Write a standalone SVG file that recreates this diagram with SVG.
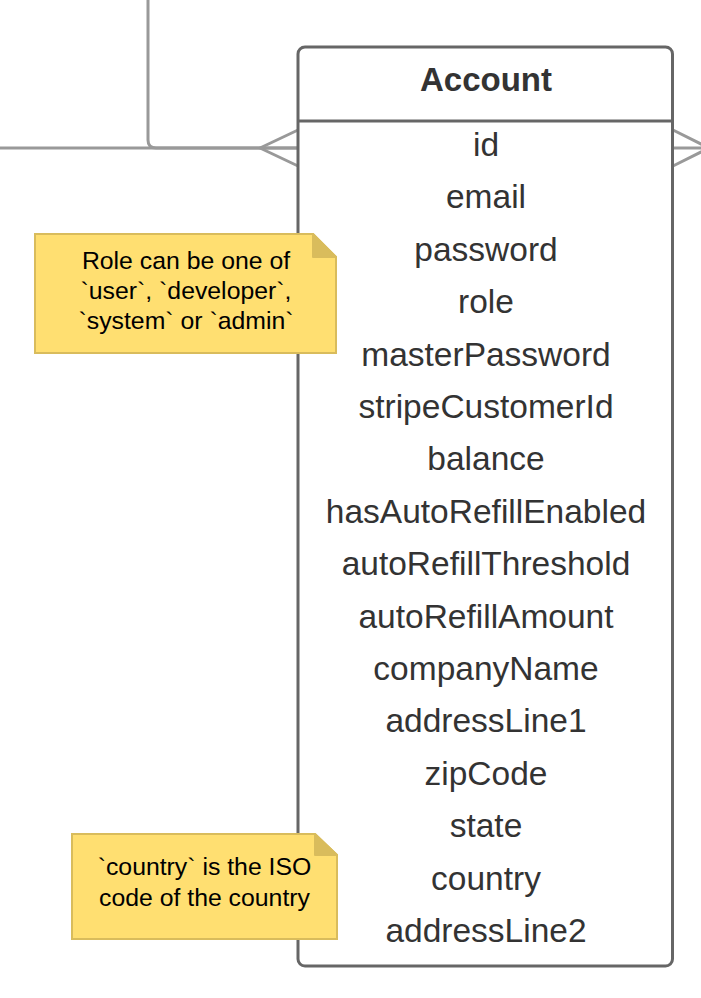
<svg xmlns="http://www.w3.org/2000/svg" width="701" height="998" viewBox="0 0 701 998">
<style>
.conn{fill:none;stroke:#999999;stroke-width:3;stroke-linejoin:round}
.ent{fill:#ffffff;stroke:#666666;stroke-width:3}
.div{stroke:#666666;stroke-width:3}
.title{font-family:"Liberation Sans",Arial,sans-serif;font-weight:bold;font-size:33px;fill:#333333;text-anchor:middle}
.row{font-family:"Liberation Sans",Arial,sans-serif;font-size:33.5px;fill:#333333;text-anchor:middle}
.note{fill:#FFDF71;stroke:#D9BC5C;stroke-width:2}
.fold{fill:#D9BC5C;stroke:#D9BC5C;stroke-width:2;stroke-linejoin:round}
.ntext{font-family:"Liberation Sans",Arial,sans-serif;font-size:24.8px;fill:#000000;text-anchor:middle}
</style>
<g id="connectors">
<path class="conn" d="M148,0 L148,140 Q148,148 156,148 L298,148"/>
<path class="conn" d="M0,148 L298,148"/>
<path class="conn" d="M298,130 L260,148 L298,166"/>
<path class="conn" d="M673,130 L709,148 L673,166 M673,148 L701,148"/>
</g>
<g id="account">
<rect class="ent" x="298" y="47" width="374.5" height="919" rx="7"/>
<line class="div" x1="298" y1="121" x2="672.5" y2="121"/>
<text class="title" x="486" y="91">Account</text>
<text class="row" x="486" y="156">id</text>
<text class="row" x="486" y="208.4">email</text>
<text class="row" x="486" y="260.8">password</text>
<text class="row" x="486" y="313.2">role</text>
<text class="row" x="486" y="365.6">masterPassword</text>
<text class="row" x="486" y="418">stripeCustomerId</text>
<text class="row" x="486" y="470.4">balance</text>
<text class="row" x="486" y="522.8">hasAutoRefillEnabled</text>
<text class="row" x="486" y="575.2">autoRefillThreshold</text>
<text class="row" x="486" y="627.6">autoRefillAmount</text>
<text class="row" x="486" y="680">companyName</text>
<text class="row" x="486" y="732.4">addressLine1</text>
<text class="row" x="486" y="784.8">zipCode</text>
<text class="row" x="486" y="837.2">state</text>
<text class="row" x="486" y="889.6">country</text>
<text class="row" x="486" y="942">addressLine2</text>
</g>
<g id="note-role">
<path class="note" d="M35,234 L313,234 L336,257 L336,353 L35,353 Z"/>
<path class="fold" d="M313,234 L313,257 L336,257 Z"/>
<text class="ntext" x="186" y="269">Role can be one of</text>
<text class="ntext" x="186" y="299">`user`, `developer`,</text>
<text class="ntext" x="186" y="328.5">`system` or `admin`</text>
</g>
<g id="note-country">
<path class="note" d="M72,834 L315,834 L337,855 L337,939 L72,939 Z"/>
<path class="fold" d="M315,834 L315,855 L337,855 Z"/>
<text class="ntext" x="204.5" y="875">`country` is the ISO</text>
<text class="ntext" x="204.5" y="906">code of the country</text>
</g>
</svg>
